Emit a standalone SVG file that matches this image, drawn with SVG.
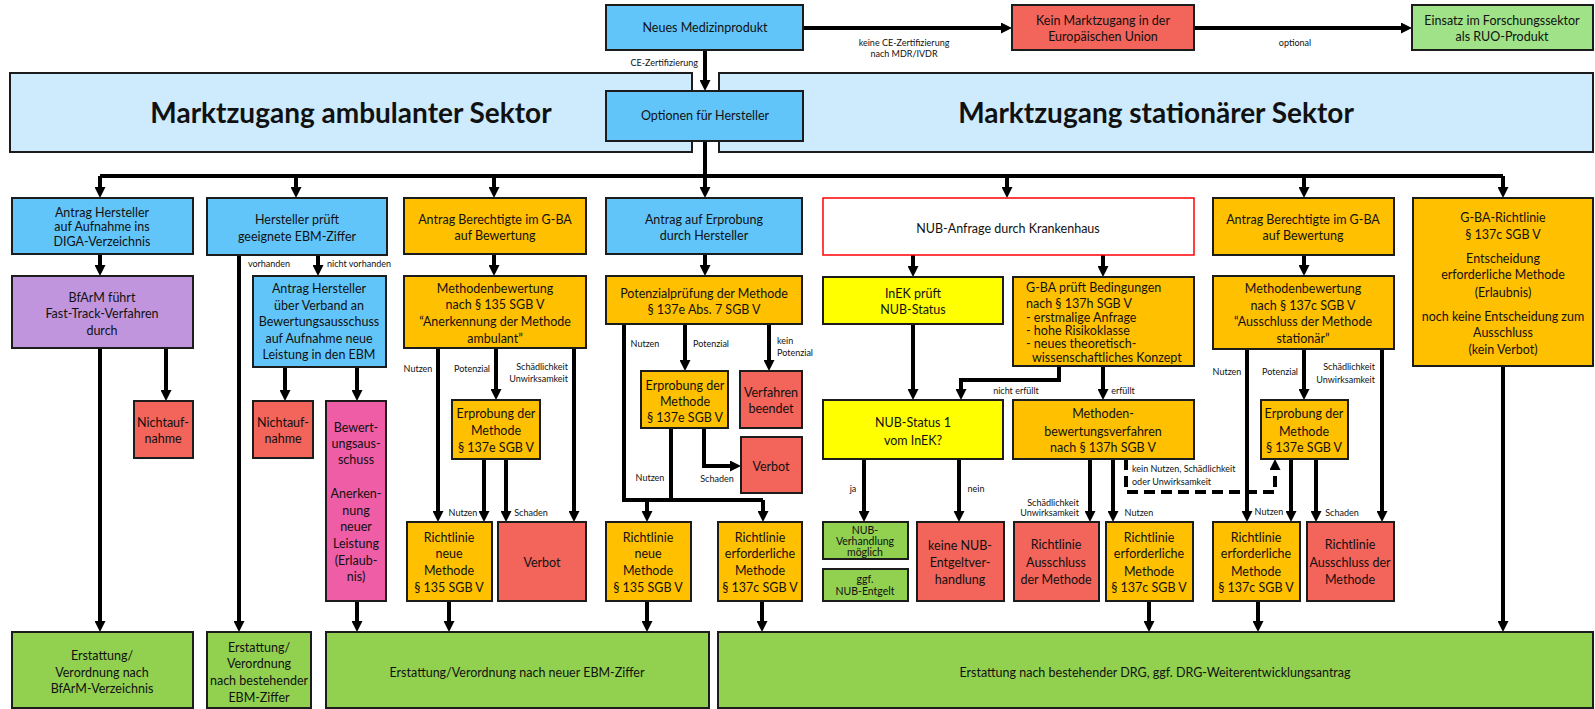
<svg xmlns="http://www.w3.org/2000/svg" width="1595" height="709" viewBox="0 0 1595 709">
<style>
.b{stroke:#1c1c1c;stroke-width:2}
.blue{fill:#62C5FA}.lblue{fill:#CDEBFC}.or{fill:#FFC000}.ye{fill:#FFFF00}.rd{fill:#F3645A}.gr{fill:#92D050}.lg{fill:#A0E287}.pu{fill:#C095DD}.pk{fill:#EE5DA5}
text{font-family:Lato,"Open Sans","Liberation Sans",sans-serif;fill:#111}
.t{font-size:12.5px;text-anchor:middle}
.tt{font-size:10.5px;text-anchor:middle}
.l{font-size:12.5px}
.s{font-size:9px;text-anchor:middle}
.sl{font-size:9px}
.sr{font-size:9px;text-anchor:end}
.h{font-size:28px;font-weight:bold;text-anchor:middle}
.c{fill:none;stroke:#000;stroke-width:4}
.ca{fill:none;stroke:#000;stroke-width:4;marker-end:url(#ah)}
.d{stroke-dasharray:11 6}
</style>
<defs>
<marker id="ah" viewBox="0 0 10 10" markerUnits="userSpaceOnUse" markerWidth="11" markerHeight="11" refX="4.55" refY="5" orient="auto"><path d="M0,0 L10,5 L0,10 z" fill="#000"/></marker>
</defs>

<g id="banner-ambulant"><rect class="b lblue" x="10" y="73" width="682" height="79"/><text class="h" x="351" y="123">Marktzugang ambulanter Sektor</text></g>
<g id="banner-stationaer"><rect class="b lblue" x="719" y="73" width="874" height="79"/><text class="h" x="1156" y="123">Marktzugang stationärer Sektor</text></g>

<g id="connectors">
<path class="ca" d="M803,28 H1006"/>
<path class="ca" d="M1194,28 H1406"/>
<path class="ca" d="M705,50 V85"/>
<path class="c" d="M705,141 V176 M100,176 H1503"/>
<path class="ca" d="M100,176 V192"/>
<path class="ca" d="M296,176 V192"/>
<path class="ca" d="M494,176 V192"/>
<path class="ca" d="M705,176 V192"/>
<path class="ca" d="M1007,176 V192"/>
<path class="ca" d="M1304,176 V192"/>
<path class="ca" d="M1503,176 V192"/>
<path class="ca" d="M100,254 V270"/>
<path class="ca" d="M100,348 V626"/>
<path class="ca" d="M166,348 V395"/>
<path class="ca" d="M239,255 V626"/>
<path class="ca" d="M318,255 V270"/>
<path class="ca" d="M285,367 V395"/>
<path class="ca" d="M357,367 V395"/>
<path class="ca" d="M357,601 V626"/>
<path class="ca" d="M494,254 V270"/>
<path class="ca" d="M438,348 V516"/>
<path class="ca" d="M496,348 V394"/>
<path class="ca" d="M574,348 V516"/>
<path class="ca" d="M484,459 V516"/>
<path class="ca" d="M506,459 V516"/>
<path class="ca" d="M449,601 V626"/>
<path class="ca" d="M705,254 V270"/>
<path class="c" d="M624,324 V500 H763 M671,428 V500"/>
<path class="ca" d="M647,500 V516"/>
<path class="ca" d="M763,500 V516"/>
<path class="ca" d="M685,324 V365"/>
<path class="ca" d="M769,324 V365"/>
<path class="ca" d="M704,428 V466 H735"/>
<path class="ca" d="M647,601 V626"/>
<path class="ca" d="M762,601 V626"/>
<path class="ca" d="M913,255 V271"/>
<path class="ca" d="M1103,255 V271"/>
<path class="ca" d="M913,324 V394"/>
<path class="ca" d="M1059,366 V380 H961 V394"/>
<path class="ca" d="M1103,366 V394"/>
<path class="ca" d="M864,459 V516"/>
<path class="ca" d="M959,459 V516"/>
<path class="ca" d="M1090,459 V516"/>
<path class="ca" d="M1113,459 V516"/>
<path class="ca d" d="M1126,459 V492 H1275 V465"/>
<path class="ca" d="M1149,601 V626"/>
<path class="ca" d="M1304,255 V270"/>
<path class="ca" d="M1247,349 V516"/>
<path class="ca" d="M1304,349 V394"/>
<path class="ca" d="M1382,349 V516"/>
<path class="ca" d="M1291,459 V516"/>
<path class="ca" d="M1316,459 V516"/>
<path class="ca" d="M1258,601 V626"/>
<path class="ca" d="M1503,366 V626"/>
</g>

<g id="connector-labels">
<text class="s" x="904" y="46">keine CE-Zertifizierung</text>
<text class="s" x="904" y="57">nach MDR/IVDR</text>
<text class="s" x="1295" y="46">optional</text>
<text class="sr" x="698" y="66">CE-Zertifizierung</text>
<text class="s" x="269" y="267">vorhanden</text>
<text class="s" x="359" y="267">nicht vorhanden</text>
<text class="s" x="418" y="372">Nutzen</text>
<text class="s" x="472" y="372">Potenzial</text>
<text class="sr" x="568" y="370">Schädlichkeit</text>
<text class="sr" x="568" y="382">Unwirksamkeit</text>
<text class="s" x="463" y="516">Nutzen</text>
<text class="s" x="531" y="516">Schaden</text>
<text class="s" x="645" y="347">Nutzen</text>
<text class="s" x="711" y="347">Potenzial</text>
<text class="sl" x="777" y="344">kein</text>
<text class="sl" x="777" y="356">Potenzial</text>
<text class="s" x="650" y="481">Nutzen</text>
<text class="s" x="717" y="482">Schaden</text>
<text class="s" x="1016" y="394">nicht erfüllt</text>
<text class="s" x="1123" y="394">erfüllt</text>
<text class="s" x="853" y="492">ja</text>
<text class="s" x="976" y="492">nein</text>
<text class="sr" x="1079" y="506">Schädlichkeit</text>
<text class="sr" x="1079" y="516">Unwirksamkeit</text>
<text class="s" x="1139" y="516">Nutzen</text>
<text class="sl" x="1132" y="472">kein Nutzen, Schädlichkeit</text>
<text class="sl" x="1132" y="485">oder Unwirksamkeit</text>
<text class="s" x="1227" y="375">Nutzen</text>
<text class="s" x="1280" y="375">Potenzial</text>
<text class="sr" x="1375" y="370">Schädlichkeit</text>
<text class="sr" x="1375" y="383">Unwirksamkeit</text>
<text class="s" x="1269" y="515">Nutzen</text>
<text class="s" x="1342" y="516">Schaden</text>
</g>

<g id="neues"><rect class="b blue" x="606" y="5" width="197" height="45"/><text class="t" x="705" y="32">Neues Medizinprodukt</text></g>
<g id="kein-marktzugang"><rect class="b rd" x="1012" y="5" width="182" height="45"/><text class="t" x="1103" y="25">Kein Marktzugang in der</text><text class="t" x="1103" y="41">Europäischen Union</text></g>
<g id="einsatz"><rect class="b lg" x="1412" y="5" width="181" height="45"/><text class="t" x="1502" y="25">Einsatz im Forschungssektor</text><text class="t" x="1502" y="41">als RUO-Produkt</text></g>
<g id="optionen"><rect class="b blue" x="606" y="91" width="197" height="50"/><text class="t" x="705" y="120">Optionen für Hersteller</text></g>

<g id="diga"><rect class="b blue" x="12" y="198" width="181" height="56"/><text class="t" x="102" y="216.5">Antrag Hersteller</text><text class="t" x="102" y="230.5">auf Aufnahme ins</text><text class="t" x="102" y="245.5">DIGA-Verzeichnis</text></g>
<g id="hersteller-prueft"><rect class="b blue" x="207" y="198" width="180" height="57"/><text class="t" x="297" y="223.5">Hersteller prüft</text><text class="t" x="297" y="240.5">geeignete EBM-Ziffer</text></g>
<g id="antrag-gba-amb"><rect class="b or" x="404" y="198" width="182" height="56"/><text class="t" x="495" y="223.5">Antrag Berechtigte im G-BA</text><text class="t" x="495" y="239.5">auf Bewertung</text></g>
<g id="antrag-erprobung"><rect class="b blue" x="606" y="198" width="196" height="56"/><text class="t" x="704" y="223.5">Antrag auf Erprobung</text><text class="t" x="704" y="239.5">durch Hersteller</text></g>
<g id="nub-anfrage"><rect x="823" y="198" width="371" height="57" fill="#fff" stroke="#FF0000" stroke-width="1.5"/><text class="t" x="1008" y="232.5">NUB-Anfrage durch Krankenhaus</text></g>
<g id="antrag-gba-stat"><rect class="b or" x="1213" y="198" width="181" height="57"/><text class="t" x="1303" y="223.5">Antrag Berechtigte im G-BA</text><text class="t" x="1303" y="239.5">auf Bewertung</text></g>
<g id="gba-richtlinie"><rect class="b or" x="1413" y="198" width="180" height="168"/><text class="t" x="1503" y="221.5">G-BA-Richtlinie</text><text class="t" x="1503" y="238.5">§ 137c SGB V</text><text class="t" x="1503" y="262.5">Entscheidung</text><text class="t" x="1503" y="278.5">erforderliche Methode</text><text class="t" x="1503" y="296.5">(Erlaubnis)</text><text class="t" x="1503" y="320.5">noch keine Entscheidung zum</text><text class="t" x="1503" y="336.5">Ausschluss</text><text class="t" x="1503" y="353.5">(kein Verbot)</text></g>

<g id="bfarm"><rect class="b pu" x="12" y="276" width="181" height="72"/><text class="t" x="102" y="301.5">BfArM führt</text><text class="t" x="102" y="317.5">Fast-Track-Verfahren</text><text class="t" x="102" y="334.5">durch</text></g>
<g id="antrag-verband"><rect class="b blue" x="253" y="276" width="133" height="91"/><text class="t" x="319" y="293">Antrag Hersteller</text><text class="t" x="319" y="309.5">über Verband an</text><text class="t" x="319" y="326">Bewertungsausschuss</text><text class="t" x="319" y="342.5">auf Aufnahme neue</text><text class="t" x="319" y="359">Leistung in den EBM</text></g>
<g id="methodenbew-amb"><rect class="b or" x="404" y="276" width="182" height="72"/><text class="t" x="495" y="292.5">Methodenbewertung</text><text class="t" x="495" y="308.5">nach § 135 SGB V</text><text class="t" x="495" y="325.5">“Anerkennung der Methode</text><text class="t" x="495" y="342.5">ambulant”</text></g>
<g id="potenzialpruefung"><rect class="b or" x="606" y="276" width="196" height="48"/><text class="t" x="704" y="297.5">Potenzialprüfung der Methode</text><text class="t" x="704" y="313.5">§ 137e Abs. 7 SGB V</text></g>
<g id="inek-prueft"><rect class="b ye" x="823" y="277" width="180" height="47"/><text class="t" x="913" y="297.5">InEK prüft</text><text class="t" x="913" y="313.5">NUB-Status</text></g>
<g id="gba-prueft"><rect class="b or" x="1013" y="277" width="181" height="89"/><text class="l" x="1026" y="291.5">G-BA prüft Bedingungen</text><text class="l" x="1026" y="307.5">nach § 137h SGB V</text><text class="l" x="1026" y="321.5">- erstmalige Anfrage</text><text class="l" x="1026" y="334.5">- hohe Risikoklasse</text><text class="l" x="1026" y="347.5">- neues theoretisch-</text><text class="l" x="1032" y="361.5">wissenschaftliches Konzept</text></g>
<g id="methodenbew-stat"><rect class="b or" x="1213" y="276" width="181" height="73"/><text class="t" x="1303" y="292.5">Methodenbewertung</text><text class="t" x="1303" y="309.5">nach § 137c SGB V</text><text class="t" x="1303" y="325.5">“Ausschluss der Methode</text><text class="t" x="1303" y="342.5">stationär”</text></g>

<g id="nichtaufnahme-1"><rect class="b rd" x="134" y="401" width="59" height="57"/><text class="t" x="163" y="426.5">Nichtauf-</text><text class="t" x="163" y="442.5">nahme</text></g>
<g id="nichtaufnahme-2"><rect class="b rd" x="253" y="401" width="60" height="57"/><text class="t" x="283" y="426.5">Nichtauf-</text><text class="t" x="283" y="442.5">nahme</text></g>
<g id="bewertungsausschuss"><rect class="b pk" x="326" y="401" width="60" height="200"/><text class="t" x="356" y="431.5">Bewert-</text><text class="t" x="356" y="447.5">ungsaus-</text><text class="t" x="356" y="463.5">schuss</text><text class="t" x="356" y="497.5">Anerken-</text><text class="t" x="356" y="514.5">nung</text><text class="t" x="356" y="530.5">neuer</text><text class="t" x="356" y="547.5">Leistung</text><text class="t" x="356" y="564.5">(Erlaub-</text><text class="t" x="356" y="580.5">nis)</text></g>
<g id="erprobung-amb"><rect class="b or" x="452" y="400" width="88" height="59"/><text class="t" x="496" y="417.5">Erprobung der</text><text class="t" x="496" y="435">Methode</text><text class="t" x="496" y="451.5">§ 137e SGB V</text></g>
<g id="erprobung-hersteller"><rect class="b or" x="641" y="371" width="87" height="57"/><text class="t" x="685" y="389.5">Erprobung der</text><text class="t" x="685" y="405.5">Methode</text><text class="t" x="685" y="421.5">§ 137e SGB V</text></g>
<g id="verfahren-beendet"><rect class="b rd" x="740" y="371" width="62" height="57"/><text class="t" x="771" y="396.5">Verfahren</text><text class="t" x="771" y="412.5">beendet</text></g>
<g id="verbot-2"><rect class="b rd" x="741" y="437" width="61" height="56"/><text class="t" x="771" y="470.5">Verbot</text></g>
<g id="nub-status"><rect class="b ye" x="823" y="400" width="180" height="59"/><text class="t" x="913" y="426.5">NUB-Status 1</text><text class="t" x="913" y="444.5">vom InEK?</text></g>
<g id="methodenbew-137h"><rect class="b or" x="1013" y="400" width="181" height="59"/><text class="t" x="1103" y="417.5">Methoden-</text><text class="t" x="1103" y="435.5">bewertungsverfahren</text><text class="t" x="1103" y="451.5">nach § 137h SGB V</text></g>
<g id="erprobung-stat"><rect class="b or" x="1261" y="400" width="87" height="59"/><text class="t" x="1304" y="417.5">Erprobung der</text><text class="t" x="1304" y="435.5">Methode</text><text class="t" x="1304" y="451.5">§ 137e SGB V</text></g>

<g id="richtlinie-neu-1"><rect class="b or" x="407" y="522" width="85" height="79"/><text class="t" x="449" y="541.5">Richtlinie</text><text class="t" x="449" y="557.5">neue</text><text class="t" x="449" y="574.5">Methode</text><text class="t" x="449" y="591.5">§ 135 SGB V</text></g>
<g id="verbot-1"><rect class="b rd" x="498" y="522" width="88" height="79"/><text class="t" x="542" y="566.5">Verbot</text></g>
<g id="richtlinie-neu-2"><rect class="b or" x="606" y="522" width="85" height="79"/><text class="t" x="648" y="541.5">Richtlinie</text><text class="t" x="648" y="557.5">neue</text><text class="t" x="648" y="574.5">Methode</text><text class="t" x="648" y="591.5">§ 135 SGB V</text></g>
<g id="richtlinie-erf-1"><rect class="b or" x="718" y="522" width="84" height="79"/><text class="t" x="760" y="541.5">Richtlinie</text><text class="t" x="760" y="557.5">erforderliche</text><text class="t" x="760" y="574.5">Methode</text><text class="t" x="760" y="591.5">§ 137c SGB V</text></g>
<g id="nub-verhandlung"><rect class="b gr" x="823" y="522" width="85" height="37"/><text class="tt" x="865" y="534">NUB-</text><text class="tt" x="865" y="545">Verhandlung</text><text class="tt" x="865" y="556">möglich</text></g>
<g id="nub-entgelt"><rect class="b gr" x="823" y="569" width="85" height="32"/><text class="tt" x="865" y="582.5">ggf.</text><text class="tt" x="865" y="595">NUB-Entgelt</text></g>
<g id="keine-nub"><rect class="b rd" x="917" y="522" width="87" height="79"/><text class="t" x="960" y="549.5">keine NUB-</text><text class="t" x="960" y="566.5">Entgeltver-</text><text class="t" x="960" y="583.5">handlung</text></g>
<g id="richtlinie-ausschluss-1"><rect class="b rd" x="1014" y="522" width="85" height="79"/><text class="t" x="1056" y="548.5">Richtlinie</text><text class="t" x="1056" y="566.5">Ausschluss</text><text class="t" x="1056" y="583.5">der Methode</text></g>
<g id="richtlinie-erf-2"><rect class="b or" x="1106" y="522" width="87" height="79"/><text class="t" x="1149" y="541.5">Richtlinie</text><text class="t" x="1149" y="557.5">erforderliche</text><text class="t" x="1149" y="575.5">Methode</text><text class="t" x="1149" y="591.5">§ 137c SGB V</text></g>
<g id="richtlinie-erf-3"><rect class="b or" x="1213" y="522" width="87" height="79"/><text class="t" x="1256" y="541.5">Richtlinie</text><text class="t" x="1256" y="557.5">erforderliche</text><text class="t" x="1256" y="575.5">Methode</text><text class="t" x="1256" y="591.5">§ 137c SGB V</text></g>
<g id="richtlinie-ausschluss-2"><rect class="b rd" x="1307" y="522" width="87" height="79"/><text class="t" x="1350" y="548.5">Richtlinie</text><text class="t" x="1350" y="566.5">Ausschluss der</text><text class="t" x="1350" y="583.5">Methode</text></g>

<g id="erstattung-bfarm"><rect class="b gr" x="12" y="632" width="181" height="76"/><text class="t" x="102" y="659.5">Erstattung/</text><text class="t" x="102" y="676.5">Verordnung nach</text><text class="t" x="102" y="692.5">BfArM-Verzeichnis</text></g>
<g id="erstattung-ebm-bestehend"><rect class="b gr" x="207" y="632" width="104" height="76"/><text class="t" x="259" y="651.5">Erstattung/</text><text class="t" x="259" y="667.5">Verordnung</text><text class="t" x="259" y="684.5">nach bestehender</text><text class="t" x="259" y="701.5">EBM-Ziffer</text></g>
<g id="erstattung-ebm-neu"><rect class="b gr" x="326" y="632" width="383" height="76"/><text class="t" x="517" y="676.5">Erstattung/Verordnung nach neuer EBM-Ziffer</text></g>
<g id="erstattung-drg"><rect class="b gr" x="718" y="632" width="875" height="76"/><text class="t" x="1155" y="676.5">Erstattung nach bestehender DRG, ggf. DRG-Weiterentwicklungsantrag</text></g>
</svg>
